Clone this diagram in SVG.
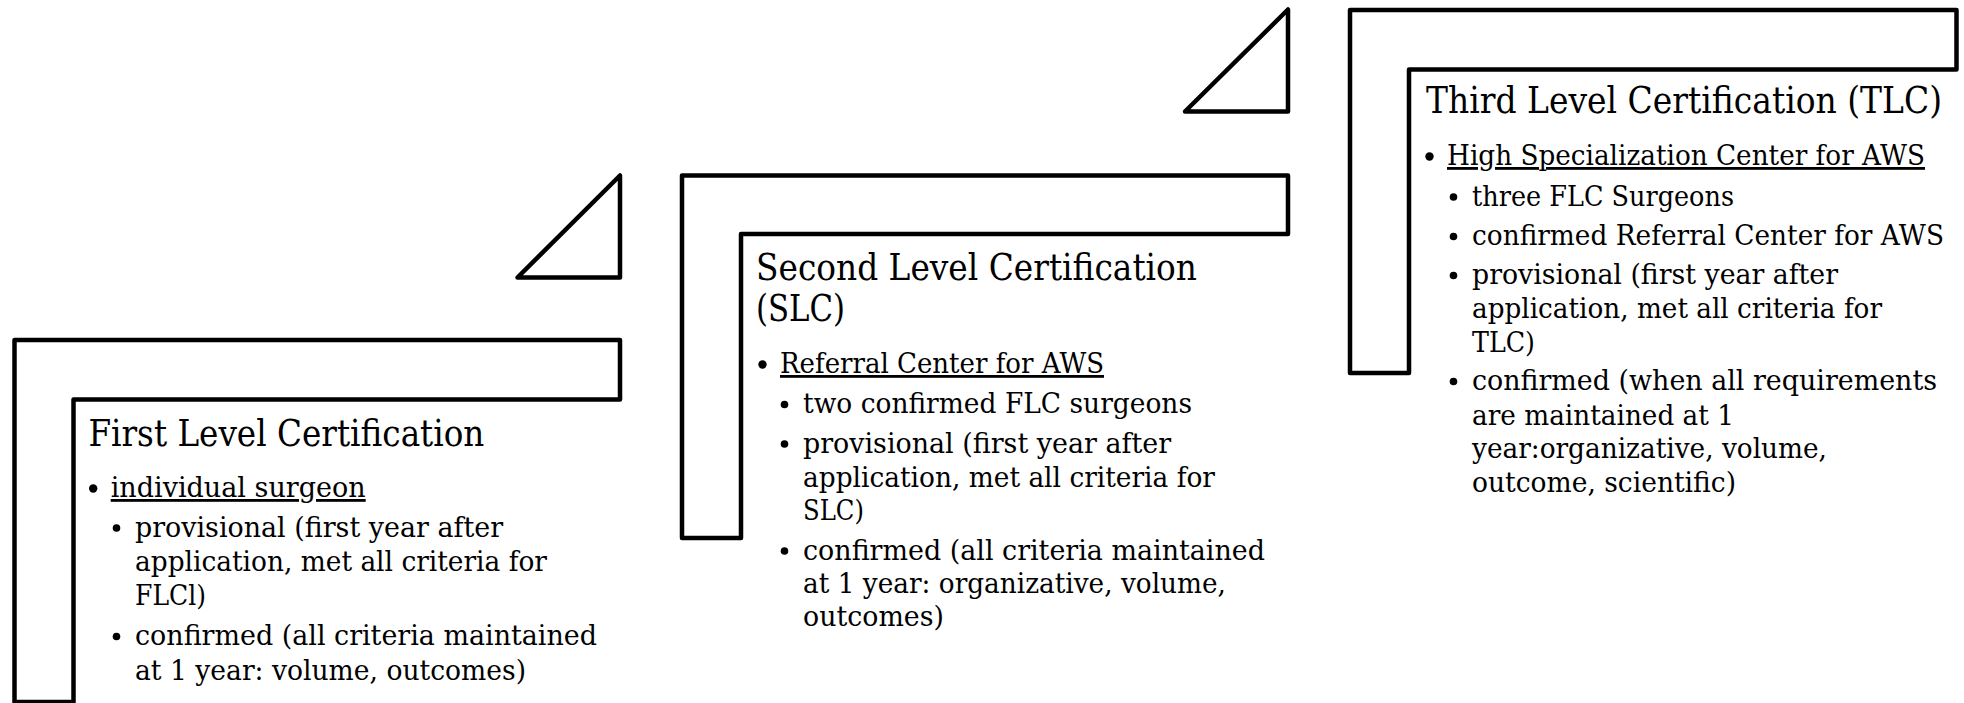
<svg xmlns="http://www.w3.org/2000/svg" width="1964" height="703" viewBox="0 0 1964 703">
<style>
.frame{fill:#fff;stroke:#000;stroke-width:4.5;stroke-linejoin:round}
.tri{fill:#fff;stroke:#000;stroke-width:4.5;stroke-linejoin:round}
.title{font-family:"DejaVu Serif","Liberation Serif",serif;font-size:38px;fill:#000}
.body{font-family:"DejaVu Serif","Liberation Serif",serif;font-size:28px;fill:#000}
.ul{text-decoration:underline}
.dot{fill:#000}
</style>
<rect x="0" y="0" width="1964" height="703" fill="#fff"/>
<g id="connectors">
<path class="tri" d="M517.5,277.5 L620,175.5 V277.5 Z"/>
<path class="tri" d="M1185,111.5 L1288,9.5 V111.5 Z"/>
</g>
<g id="node-flc">
<path class="frame" d="M14.5,702 V340 H620 V399.5 H73.5 V702 Z"/>
<text class="title" x="88.4" y="446" textLength="396" lengthAdjust="spacingAndGlyphs">First Level Certification</text>
<circle class="dot" cx="93.2" cy="488.5" r="4.2"/>
<text class="body ul" x="110.7" y="497" textLength="255" lengthAdjust="spacingAndGlyphs">individual surgeon</text>
<circle class="dot" cx="116.5" cy="528" r="3.8"/>
<text class="body" x="135" y="536.5" textLength="368" lengthAdjust="spacingAndGlyphs">provisional (first year after</text>
<text class="body" x="135" y="571" textLength="412" lengthAdjust="spacingAndGlyphs">application, met all criteria for</text>
<text class="body" x="135" y="605" textLength="71" lengthAdjust="spacingAndGlyphs">FLCl)</text>
<circle class="dot" cx="116.5" cy="636.5" r="3.8"/>
<text class="body" x="135" y="645" textLength="462" lengthAdjust="spacingAndGlyphs">confirmed (all criteria maintained</text>
<text class="body" x="135" y="680" textLength="391" lengthAdjust="spacingAndGlyphs">at 1 year: volume, outcomes)</text>
</g>
<g id="node-slc">
<path class="frame" d="M682,538 V175.5 H1288 V234 H741 V538 Z"/>
<text class="title" x="756" y="279.5" textLength="441" lengthAdjust="spacingAndGlyphs">Second Level Certification</text>
<text class="title" x="756" y="321" textLength="89" lengthAdjust="spacingAndGlyphs">(SLC)</text>
<circle class="dot" cx="762.5" cy="364.5" r="4.2"/>
<text class="body ul" x="780" y="373" textLength="324" lengthAdjust="spacingAndGlyphs">Referral Center for AWS</text>
<circle class="dot" cx="784.5" cy="404.5" r="3.8"/>
<text class="body" x="803" y="413" textLength="389" lengthAdjust="spacingAndGlyphs">two confirmed FLC surgeons</text>
<circle class="dot" cx="784.5" cy="444" r="3.8"/>
<text class="body" x="803" y="452.5" textLength="368" lengthAdjust="spacingAndGlyphs">provisional (first year after</text>
<text class="body" x="803" y="486.5" textLength="412" lengthAdjust="spacingAndGlyphs">application, met all criteria for</text>
<text class="body" x="803" y="520" textLength="61" lengthAdjust="spacingAndGlyphs">SLC)</text>
<circle class="dot" cx="784.5" cy="551" r="3.8"/>
<text class="body" x="803" y="559.5" textLength="462" lengthAdjust="spacingAndGlyphs">confirmed (all criteria maintained</text>
<text class="body" x="803" y="592.5" textLength="423" lengthAdjust="spacingAndGlyphs">at 1 year: organizative, volume,</text>
<text class="body" x="803" y="625.5" textLength="141" lengthAdjust="spacingAndGlyphs">outcomes)</text>
</g>
<g id="node-tlc">
<path class="frame" d="M1350,373 V10 H1956.5 V69.5 H1409 V373 Z"/>
<text class="title" x="1426" y="113" textLength="516" lengthAdjust="spacingAndGlyphs">Third Level Certification (TLC)</text>
<circle class="dot" cx="1429.5" cy="156.5" r="4.2"/>
<text class="body ul" x="1447" y="165" textLength="478" lengthAdjust="spacingAndGlyphs">High Specialization Center for AWS</text>
<circle class="dot" cx="1453.5" cy="197" r="3.8"/>
<text class="body" x="1472" y="205.5" textLength="262" lengthAdjust="spacingAndGlyphs">three FLC Surgeons</text>
<circle class="dot" cx="1453.5" cy="236.5" r="3.8"/>
<text class="body" x="1472" y="245" textLength="472" lengthAdjust="spacingAndGlyphs">confirmed Referral Center for AWS</text>
<circle class="dot" cx="1453.5" cy="275.5" r="3.8"/>
<text class="body" x="1472" y="284" textLength="366" lengthAdjust="spacingAndGlyphs">provisional (first year after</text>
<text class="body" x="1472" y="318" textLength="410" lengthAdjust="spacingAndGlyphs">application, met all criteria for</text>
<text class="body" x="1472" y="352" textLength="63" lengthAdjust="spacingAndGlyphs">TLC)</text>
<circle class="dot" cx="1453.5" cy="381.5" r="3.8"/>
<text class="body" x="1472" y="390" textLength="465" lengthAdjust="spacingAndGlyphs">confirmed (when all requirements</text>
<text class="body" x="1472" y="425" textLength="262" lengthAdjust="spacingAndGlyphs">are maintained at 1</text>
<text class="body" x="1472" y="458" textLength="355" lengthAdjust="spacingAndGlyphs">year:organizative, volume,</text>
<text class="body" x="1472" y="492" textLength="264" lengthAdjust="spacingAndGlyphs">outcome, scientific)</text>
</g>
</svg>
